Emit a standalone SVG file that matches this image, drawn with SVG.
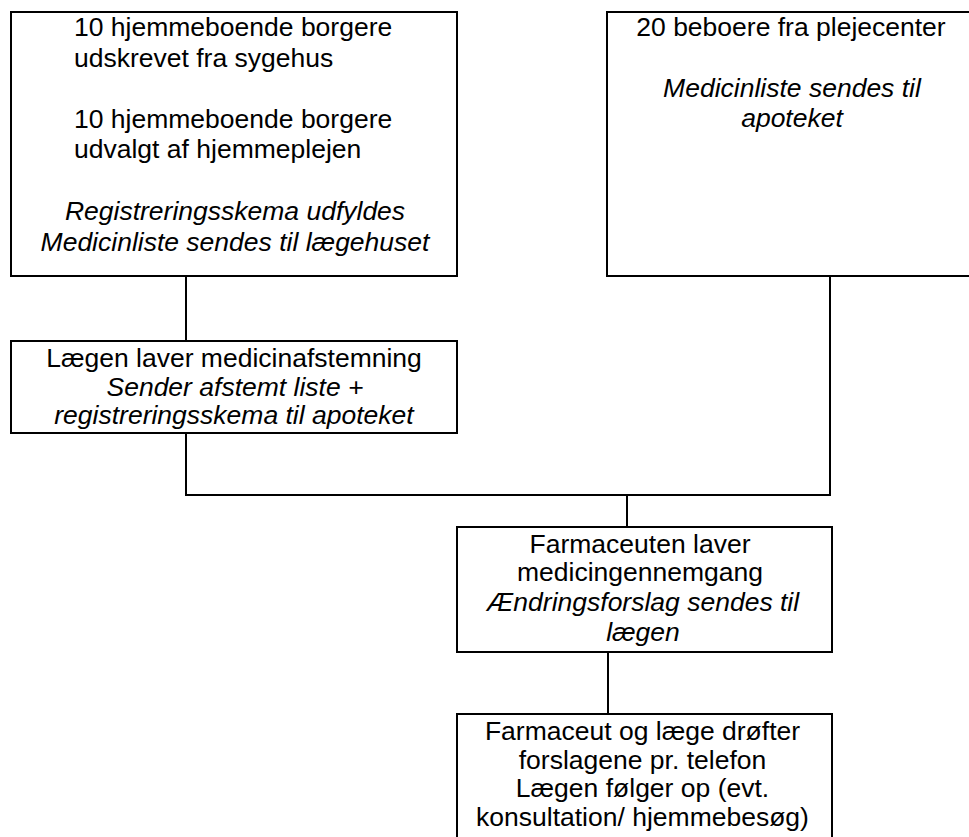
<svg xmlns="http://www.w3.org/2000/svg" width="969" height="837" viewBox="0 0 969 837">
<style>
.box{fill:#fff;stroke:#000;stroke-width:2}
.ln{fill:none;stroke:#000;stroke-width:2}
text{font-family:"Liberation Sans",Arial,sans-serif;font-size:26.5px;fill:#000}
.c{text-anchor:middle}
.i{font-style:italic}
</style>
<rect width="969" height="837" fill="#fff"/>
<g id="connectors">
<path class="ln" d="M186,276 V341"/>
<path class="ln" d="M186,433 V495 H830 V276"/>
<path class="ln" d="M627,495 V527"/>
<path class="ln" d="M608,652 V714"/>
</g>
<g id="n1">
<rect class="box" x="11" y="12" width="446" height="264"/>
<text x="74" y="36">10 hjemmeboende borgere</text>
<text x="74" y="66.5">udskrevet fra sygehus</text>
<text x="74" y="127.5">10 hjemmeboende borgere</text>
<text x="74" y="158">udvalgt af hjemmeplejen</text>
<text class="c i" x="235" y="220">Registreringsskema udfyldes</text>
<text class="c i" x="235" y="250.5">Medicinliste sendes til lægehuset</text>
</g>
<g id="n2">
<rect class="box" x="607" y="12" width="370" height="264"/>
<text class="c" x="791" y="35.5">20 beboere fra plejecenter</text>
<text class="c i" x="792" y="97">Medicinliste sendes til</text>
<text class="c i" x="792" y="127">apoteket</text>
</g>
<g id="n3">
<rect class="box" x="11" y="341" width="446" height="92"/>
<text class="c" x="234" y="367">Lægen laver medicinafstemning</text>
<text class="c i" x="235" y="395.5">Sender afstemt liste +</text>
<text class="c i" x="234" y="424">registreringsskema til apoteket</text>
</g>
<g id="n4">
<rect class="box" x="457" y="527" width="375" height="125"/>
<text class="c" x="640" y="553">Farmaceuten laver</text>
<text class="c" x="640" y="581">medicingennemgang</text>
<text class="c i" x="643" y="610.5">Ændringsforslag sendes til</text>
<text class="c i" x="643" y="641">lægen</text>
</g>
<g id="n5">
<rect class="box" x="457" y="714" width="375" height="140"/>
<text class="c" x="642.5" y="740">Farmaceut og læge drøfter</text>
<text class="c" x="642.5" y="768.5">forslagene pr. telefon</text>
<text class="c" x="642.5" y="797">Lægen følger op (evt.</text>
<text class="c" x="642.5" y="825.5">konsultation/ hjemmebesøg)</text>
</g>
</svg>
